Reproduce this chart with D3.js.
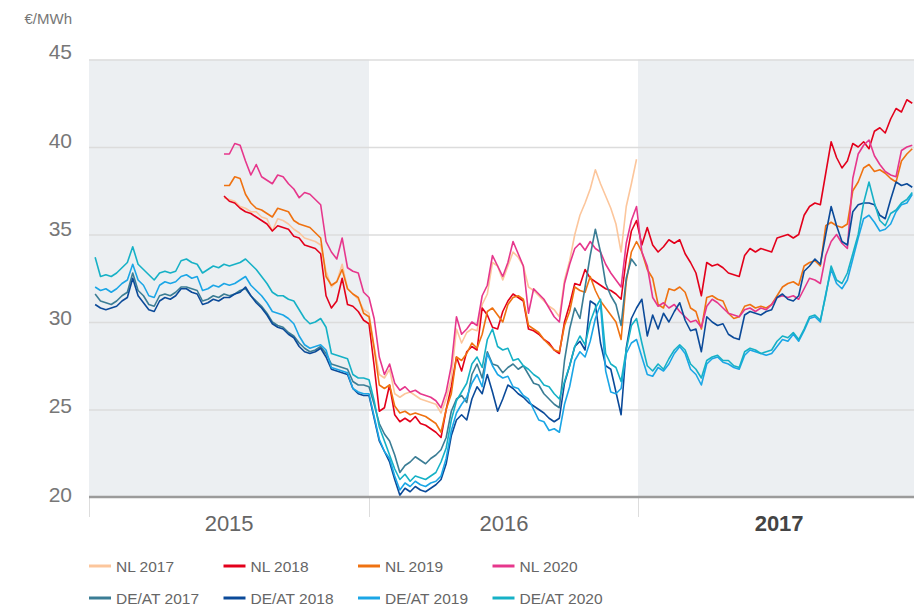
<!DOCTYPE html>
<html>
<head>
<meta charset="utf-8">
<script src="https://cdn.jsdelivr.net/npm/d3@7"></script>
<style>
  body { margin: 0; background: #fff; }
  svg { display: block; font-family: "Liberation Sans", Arial, sans-serif; }
</style>
</head>
<body>
<svg id="chart" width="914" height="607"></svg>
<script>
// weekly closing prices (€/MWh), first week = 2 Jan 2015
const firstWeek = new Date(2015, 0, 2);
const deStart = 1;   // DE/AT contracts start in week 1
const nlStart = 25;  // NL contracts start in week 25

const nl2017 = [
  37.1, 37.0, 36.9, 36.6, 36.5, 36.3, 36.3, 36.0, 35.9, 35.2,
  35.9, 35.8, 35.6, 35.3, 35.1, 34.8, 34.7, 34.6, 34.4, 32.9,
  32.0, 32.3, 33.3, 31.9, 31.6, 31.3, 30.7, 30.5, 28.6, 27.0,
  26.8, 27.3, 25.9, 25.7, 25.9, 26.0, 25.8, 25.6, 25.5, 25.4,
  25.3, 24.8, 25.6, 26.8, 29.6, 28.8, 29.4, 29.6, 29.5, 31.0,
  31.6, 33.4, 33.2, 32.4, 33.2, 34.0, 33.7, 33.2, 32.0, 31.8,
  31.5, 31.2, 30.9, 30.7, 30.3, 32.4, 33.5, 35.0, 36.1, 36.8,
  37.6, 38.7, 37.9, 37.2, 36.5, 35.6, 34.0, 36.6, 37.9, 39.3
];
const nl2018 = [
  37.2, 36.9, 36.8, 36.5, 36.3, 36.2, 36.0, 35.8, 35.6, 35.2,
  35.5, 35.4, 35.3, 34.9, 34.8, 34.4, 34.3, 34.2, 33.9, 31.5,
  30.8, 31.2, 32.5, 31.0, 30.9, 30.6, 30.1, 29.9, 27.5, 24.9,
  25.1, 26.4, 24.7, 24.3, 24.5, 24.3, 24.6, 24.2, 24.1, 23.9,
  23.7, 23.4, 25.0, 26.3, 28.0, 27.2, 28.3, 28.6, 28.4, 30.8,
  30.4, 29.7, 29.6, 30.6, 31.2, 31.6, 31.4, 31.2, 29.6, 29.5,
  29.3, 29.0, 28.8, 28.4, 28.2, 30.0, 31.0, 32.2, 32.1, 33.0,
  32.5, 32.3, 32.1, 31.9, 31.8, 31.6, 31.3, 33.6, 35.2, 35.8,
  34.4, 35.4, 34.4, 34.0, 34.3, 34.7, 34.5, 34.7, 33.9, 33.4,
  32.8, 31.5, 33.4, 33.2, 33.3, 33.1, 32.8, 32.7, 32.6, 33.8,
  34.2, 34.0, 34.2, 34.1, 34.0, 34.8, 34.9, 35.0, 34.8, 35.0,
  36.1, 36.6, 36.8, 36.7, 38.5, 40.3, 39.4, 38.8, 39.2, 40.2,
  40.0, 40.3, 39.9, 40.9, 41.1, 40.8, 41.6, 42.2, 42.0, 42.7,
  42.5
];
const nl2019 = [
  37.8, 37.8, 38.3, 38.2, 37.3, 36.8, 36.5, 36.4, 36.2, 36.0,
  36.5, 36.4, 36.3, 35.8, 35.6, 35.5, 35.4, 35.1, 34.8, 32.6,
  32.1, 32.3, 33.0, 31.9, 31.6, 31.4, 30.5, 30.3, 28.5, 26.4,
  26.2, 26.4, 25.2, 24.8, 24.9, 24.7, 24.8, 24.7, 24.6, 24.4,
  24.2, 23.7, 25.0, 25.9, 28.0, 27.8, 28.2, 28.8, 28.5, 29.3,
  30.6, 30.8, 30.4, 30.0, 31.0, 31.4, 31.5, 31.3, 29.8, 29.6,
  29.4, 29.0, 28.7, 28.4, 28.3, 29.8, 30.6, 32.0, 31.8, 31.7,
  32.6, 31.8, 31.2, 30.8, 30.4, 30.0, 29.0, 32.3, 34.0, 34.6,
  34.0, 33.0, 32.5, 31.0, 30.8, 31.9, 31.8, 32.0, 31.7, 30.8,
  30.6, 29.6, 31.4, 31.5, 31.3, 31.2, 30.5, 30.2, 30.3, 30.9,
  31.0, 30.8, 30.9, 30.8, 31.0, 31.5, 32.0, 32.2, 32.3, 32.1,
  33.2, 33.4, 33.5, 33.2, 35.5, 35.7, 35.5, 35.4, 35.6, 37.5,
  38.0, 38.8, 39.0, 38.6, 38.7, 38.5, 38.2, 38.0, 39.2, 39.6,
  39.9
];
const nl2020 = [
  39.6, 39.6, 40.2, 40.1, 39.2, 38.4, 39.0, 38.3, 38.1, 37.9,
  38.4, 38.3, 37.9, 37.6, 37.1, 37.4, 37.3, 37.0, 36.7, 34.6,
  34.0, 33.6, 34.8, 33.1, 32.9, 32.8, 31.7, 31.4, 30.2, 28.0,
  27.0, 27.6, 26.5, 26.1, 26.3, 26.0, 26.1, 25.9, 25.8, 25.7,
  25.5, 25.1, 26.0, 27.5, 30.3, 29.3, 29.6, 30.0, 29.8, 31.5,
  32.1, 33.8, 33.2, 32.6, 33.4, 34.6, 33.9, 33.2, 30.5, 31.9,
  31.6, 31.3, 30.8, 30.3, 30.0, 32.2, 33.3, 34.2, 34.5, 34.1,
  34.6, 34.2, 34.0, 33.3, 32.8, 32.4, 32.0, 34.5, 35.8, 36.6,
  34.0, 33.2, 31.4, 30.9, 31.1, 30.8, 31.0, 30.6, 30.3, 30.0,
  30.1, 29.7, 30.9, 31.3, 31.1, 30.8, 30.5, 30.4, 30.3, 30.7,
  30.8, 30.6, 30.8, 30.7, 31.0, 31.4, 31.5, 31.4, 31.5, 31.3,
  31.9, 32.5, 32.4, 32.2, 33.8, 34.6, 35.0, 34.5, 34.2, 38.2,
  39.6, 40.1, 40.4, 39.5, 39.0, 38.6, 38.4, 38.3, 39.8, 40.0,
  40.1
];
const de2017 = [
  31.6, 31.2, 31.1, 31.0, 31.2, 31.5, 31.7, 32.8, 31.8, 31.5,
  31.0, 30.9, 31.5, 31.6, 31.5, 31.7, 32.0, 32.0, 31.9, 31.8,
  31.2, 31.3, 31.5, 31.4, 31.6, 31.5, 31.6, 31.8, 31.9, 31.5,
  31.2, 30.9, 30.5, 30.0, 29.8, 29.7, 29.4, 29.2, 28.8, 28.5,
  28.3, 28.4, 28.6, 28.2, 27.6, 27.5, 27.4, 27.3, 26.6, 26.4,
  26.4, 26.3, 25.3, 24.2, 23.6, 23.2, 22.4, 21.4, 21.8, 22.0,
  22.3, 22.1, 21.9, 22.2, 22.4, 22.7, 23.4, 24.9, 25.6, 25.8,
  25.4, 27.0, 27.6, 26.8, 28.3, 27.6, 27.5, 27.1, 27.4, 27.6,
  27.3, 27.5, 27.0, 26.5, 26.4, 25.9, 25.6, 25.3, 25.1, 27.8,
  29.6, 30.8, 30.2, 32.0, 33.8, 35.3, 34.0, 32.2, 31.5, 31.0,
  29.8, 32.5, 33.6, 33.2
];
const de2018 = [
  31.0, 30.8, 30.7, 30.8, 30.9, 31.2, 31.4, 32.5, 31.5, 31.1,
  30.7, 30.6, 31.2, 31.4, 31.3, 31.5, 31.9, 31.9, 31.7, 31.6,
  31.0, 31.1, 31.3, 31.2, 31.4, 31.4, 31.6, 31.7, 32.0, 31.5,
  31.1, 30.8, 30.4, 29.9, 29.7, 29.6, 29.3, 29.1, 28.6, 28.3,
  28.2, 28.3, 28.5, 28.0, 27.3, 27.2, 27.1, 27.0, 26.2, 25.9,
  25.8, 25.8, 24.5, 23.2, 22.6, 22.0, 21.0, 20.1, 20.5, 20.3,
  20.6, 20.4, 20.3, 20.5, 20.7, 21.0, 21.9, 23.5, 24.4, 24.7,
  24.4, 25.6, 26.3, 25.9, 27.0, 26.0, 24.9, 25.6, 26.4, 26.2,
  25.9, 25.7, 25.4, 25.2, 25.0, 24.8, 24.5, 24.3, 24.5, 26.5,
  27.5, 28.6, 28.9, 28.4, 31.2, 31.0, 28.8, 27.5, 27.3, 26.0,
  24.7, 28.5, 30.2, 30.8, 31.3, 29.2, 30.4, 29.6, 30.5, 30.0,
  30.6, 31.1, 30.1, 29.5, 29.6, 28.3, 30.3, 30.0, 29.8, 29.9,
  29.3, 29.1, 29.0, 30.4, 30.6, 30.5, 30.4, 30.6, 30.7, 31.4,
  31.6, 31.3, 31.2, 31.5, 32.9, 33.2, 33.6, 33.3, 35.0, 36.6,
  35.5, 34.6, 34.4, 36.3, 36.7, 36.8, 36.8, 36.7, 36.1, 35.9,
  37.0, 38.0, 37.8, 37.9, 37.7
];
const de2019 = [
  32.0, 31.8, 31.9, 31.7, 31.9, 32.2, 32.4, 33.3, 32.4, 32.1,
  31.5, 31.4, 32.1, 32.3, 32.2, 32.3, 32.6, 32.7, 32.5, 32.6,
  31.8, 31.9, 32.1, 32.0, 32.2, 32.1, 32.2, 32.4, 32.6, 32.1,
  31.8, 31.5, 31.1, 30.6, 30.5, 30.4, 30.2, 29.9, 29.2, 28.7,
  28.5, 28.6, 28.7, 28.4, 27.4, 27.3, 27.2, 27.1, 26.2, 26.0,
  25.9, 25.9, 24.6, 23.3, 22.6, 22.2, 21.2, 20.4, 20.8, 20.6,
  20.9, 20.7, 20.6, 20.8, 20.9, 21.2, 22.2, 23.8, 24.8, 25.3,
  25.7, 26.5, 27.0, 26.3, 28.2, 27.5, 27.0, 26.8, 26.9, 26.3,
  26.2, 25.8, 25.6, 25.0, 24.4, 24.3, 23.8, 23.9, 23.7, 25.3,
  26.3, 27.8, 28.3, 28.0, 28.9, 30.2, 31.0, 27.2, 26.0, 25.9,
  26.2, 28.2, 28.8, 29.0, 28.0, 27.0, 26.9, 27.4, 27.2, 27.6,
  28.2, 28.6, 28.2, 27.3, 27.0, 26.4, 27.6, 27.9, 28.0, 27.7,
  27.6, 27.4, 27.3, 28.1, 28.4, 28.3, 28.2, 28.1, 28.2, 28.6,
  29.0, 28.9, 29.3, 28.9, 29.5, 30.2, 30.3, 30.0, 31.6, 33.0,
  32.2, 31.9, 32.4, 33.6, 34.8, 35.9, 36.1, 35.7, 35.2, 35.3,
  35.6, 36.3, 36.7, 36.8, 37.3
];
const de2020 = [
  33.7, 32.6, 32.7, 32.6, 32.8, 33.1, 33.4, 34.3, 33.3, 33.0,
  32.7, 32.4, 32.8, 32.9, 32.8, 32.9, 33.5, 33.6, 33.4, 33.3,
  32.8, 33.0, 33.2, 33.1, 33.3, 33.2, 33.3, 33.4, 33.6, 33.3,
  33.0, 32.6, 32.2, 31.7, 31.5, 31.5, 31.3, 31.2, 30.7, 30.2,
  29.9, 30.0, 30.2, 29.7, 28.2, 28.1, 28.0, 27.9, 27.0, 26.8,
  26.8, 26.7, 25.5, 24.0, 23.2, 22.4, 21.6, 21.0, 21.3, 20.9,
  21.2, 21.1, 21.0, 21.2, 21.4, 22.0, 22.8, 24.4, 25.5, 26.0,
  26.5, 27.6, 28.0, 27.4, 29.0, 29.6, 28.6, 28.4, 28.5, 27.8,
  27.9, 27.5, 27.3, 27.0, 26.8, 26.4, 26.3, 25.9, 25.6, 26.6,
  27.5, 28.6, 29.2, 28.7, 30.0, 30.8, 31.3, 28.2, 27.6, 27.4,
  26.6, 28.4, 29.8, 30.2, 28.8, 27.5, 27.2, 27.6, 27.3, 27.9,
  28.4, 28.7, 28.4, 27.6, 27.3, 26.8, 27.8, 28.0, 28.1, 27.8,
  27.8, 27.5, 27.4, 28.3, 28.5, 28.4, 28.2, 28.3, 28.4, 28.9,
  29.2, 29.1, 29.4, 29.0, 29.6, 30.3, 30.4, 30.1, 31.5, 33.2,
  32.4, 32.2, 32.8, 33.9, 35.0, 36.8, 38.0, 36.8, 35.8, 35.5,
  36.2, 36.4, 36.8, 37.0, 37.4
];

const yTicks = [20, 25, 30, 35, 40, 45];
const years = [2015, 2016, 2017];
const shadedYears = [2015, 2017];

const series = [
  { name: "NL 2017", color: "#fcc69c", start: nlStart, values: nl2017 },
  { name: "NL 2018", color: "#e3001b", start: nlStart, values: nl2018 },
  { name: "NL 2019", color: "#ef7211", start: nlStart, values: nl2019 },
  { name: "NL 2020", color: "#e6378c", start: nlStart, values: nl2020 },
  { name: "DE/AT 2017", color: "#3b7d95", start: deStart, values: de2017 },
  { name: "DE/AT 2018", color: "#0b4a99", start: deStart, values: de2018 },
  { name: "DE/AT 2019", color: "#1ba6e6", start: deStart, values: de2019 },
  { name: "DE/AT 2020", color: "#16b1c6", start: deStart, values: de2020 }
];

const svg = d3.select("#chart");
const W = 914;
const plotLeft = 89, plotTop = 59.5, plotBottom = 497;

const yearDate = yr => new Date(yr, 0, 1);
const weekDate = i => d3.timeDay.offset(firstWeek, 7 * i);

const x = d3.scaleTime()
  .domain([yearDate(2015), yearDate(2016), yearDate(2017), yearDate(2018)])
  .range([plotLeft, 369, 638, 920]);
const y = d3.scaleLinear().domain([20, 45]).range([plotBottom, plotTop]);

// shaded years
svg.selectAll("rect.band")
  .data(shadedYears)
  .join("rect")
  .attr("class", "band")
  .attr("x", d => x(yearDate(d)))
  .attr("width", d => x(yearDate(d + 1)) - x(yearDate(d)))
  .attr("y", y(45))
  .attr("height", y(20) - y(45))
  .attr("fill", "#eceff2");

// y grid + labels
const gy = svg.append("g")
  .attr("transform", `translate(${plotLeft},0)`)
  .call(d3.axisLeft(y).tickValues(yTicks).tickSize(-(W - plotLeft)).tickPadding(17));
gy.select(".domain").remove();
gy.selectAll(".tick line")
  .attr("stroke", d => d === 20 ? "none" : "#dcdcdc")
  .attr("stroke-width", 1.5);
// labels sit a little lower towards the bottom of the axis
gy.selectAll(".tick text")
  .attr("dy", d => (45 - d) / 5 - 1)
  .attr("font-size", 21)
  .attr("fill", "#777");

svg.append("text")
  .attr("x", 72).attr("y", 24)
  .attr("text-anchor", "end")
  .attr("font-size", 15)
  .attr("fill", "#777")
  .text("€/MWh");

// year separators
const gx = svg.append("g")
  .attr("transform", `translate(0,${plotBottom})`)
  .call(d3.axisBottom(x).tickValues(years.map(yearDate)).tickSize(20).tickFormat(""));
gx.select(".domain").remove();
gx.selectAll(".tick line").attr("stroke", "#dddddd").attr("stroke-width", 1);

// year labels
const gl = svg.append("g")
  .attr("transform", `translate(0,${plotBottom})`)
  .call(d3.axisBottom(x)
    .tickValues(years.map(yr => new Date(yr, 6, 2)))
    .tickSize(0)
    .tickFormat(d3.timeFormat("%Y")));
gl.select(".domain").remove();
gl.selectAll(".tick text")
  .attr("y", 34).attr("dy", 0)
  .attr("font-size", 22)
  .attr("font-weight", d => d.getFullYear() === 2017 ? "bold" : null)
  .attr("fill", d => d.getFullYear() === 2017 ? "#444" : "#666");

// price lines
const line = d3.line()
  .x(d => x(d.date))
  .y(d => y(d.value));

svg.append("g")
  .selectAll("path")
  .data(series)
  .join("path")
  .attr("fill", "none")
  .attr("stroke", d => d.color)
  .attr("stroke-width", 1.6)
  .attr("stroke-linejoin", "round")
  .attr("d", s => line(s.values.map((v, i) => ({ date: weekDate(s.start + i), value: v }))));

// x axis baseline at 20
svg.append("line")
  .attr("x1", plotLeft).attr("x2", W)
  .attr("y1", y(20)).attr("y2", y(20))
  .attr("stroke", "#9b9b9b")
  .attr("stroke-width", 2.5);

// legend
const legend = svg.append("g");
const item = legend.selectAll("g")
  .data(series)
  .join("g")
  .attr("transform", (d, i) => `translate(${89 + (i % 4) * 134.5},${i < 4 ? 566 : 598})`);
item.append("line")
  .attr("x1", 0).attr("x2", 22)
  .attr("stroke", d => d.color)
  .attr("stroke-width", 3);
item.append("text")
  .attr("x", 27)
  .attr("dy", "0.36em")
  .attr("font-size", 15.5)
  .attr("fill", "#666")
  .text(d => d.name);
</script>
</body>
</html>
